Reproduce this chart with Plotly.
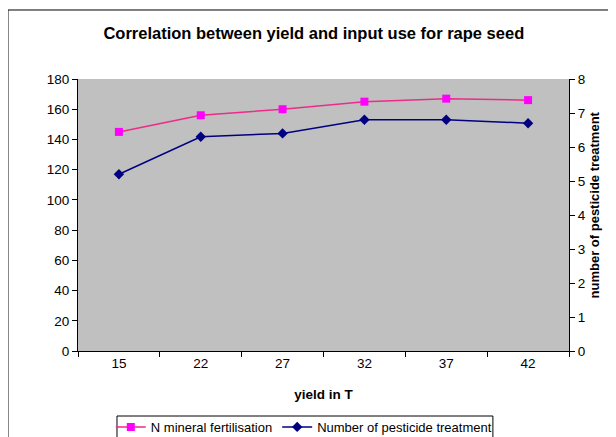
import plotly.graph_objects as go

yield_t = ["15", "22", "27", "32", "37", "42"]
n_mineral = [145, 156, 160, 165, 167, 166]
pesticide = [5.2, 6.3, 6.4, 6.8, 6.8, 6.7]

FONT = "Liberation Sans, Arial, sans-serif"

fig = go.Figure()
fig.add_trace(go.Scatter(
    x=yield_t, y=n_mineral, name="N mineral fertilisation",
    mode="lines+markers",
    line=dict(color="#EE2A8A", width=1.5),
    marker=dict(symbol="square", size=8, color="#FF00FF"),
))
fig.add_trace(go.Scatter(
    x=yield_t, y=pesticide, name="Number of pesticide treatment",
    mode="lines+markers", yaxis="y2",
    line=dict(color="#000080", width=1.5),
    marker=dict(symbol="diamond", size=8, color="#000080"),
))

# page body adds an 8px offset, so the figure is 8px smaller than the window
fig.update_layout(
    width=608, height=429,
    margin=dict(l=70, r=47, t=71, b=86, autoexpand=False),
    paper_bgcolor="white",
    plot_bgcolor="#C0C0C0",
    font=dict(family=FONT, size=13.5, color="black"),
    title=dict(
        text="<b>Correlation between yield and input use for rape seed</b>",
        x=0.503, xanchor="center", y=0.942, yanchor="middle",
        font=dict(size=16.5),
    ),
    xaxis=dict(
        type="category", range=[-0.5, 5.5], tickson="boundaries",
        ticks="outside", ticklen=5, tickcolor="black", automargin=False,
        showline=True, linecolor="black", showgrid=False, zeroline=False,
        title=dict(text="<b>yield in T</b>", standoff=19,
                   font=dict(size=13.5)),
    ),
    yaxis=dict(
        range=[0, 180], dtick=20, ticks="outside", ticklen=5,
        tickcolor="black", showline=True, linecolor="black",
        showgrid=False, zeroline=False, automargin=False,
    ),
    yaxis2=dict(
        range=[0, 8], dtick=1, overlaying="y", side="right",
        ticks="outside", ticklen=5, tickcolor="black", automargin=False,
        showline=True, linecolor="black", showgrid=False, zeroline=False,
    ),
    legend=dict(
        orientation="h", x=0.0668, xanchor="left", y=-0.224, yanchor="top",
        borderwidth=0, bgcolor="rgba(0,0,0,0)",
        font=dict(size=13),
    ),
    showlegend=True,
)

# right axis title
fig.add_annotation(
    text="<b>number of pesticide treatment</b>",
    xref="paper", yref="paper", x=1.0713, y=0.537,
    textangle=-90, showarrow=False, font=dict(size=13),
)

# outer chart frame
fig.add_shape(
    type="rect", xref="paper", yref="paper",
    x0=-0.1426, x1=1.11, y0=-0.34, y1=1.2537,
    line=dict(color="black", width=1), fillcolor="rgba(0,0,0,0)",
    layer="below",
)
# legend box
fig.add_shape(
    type="rect", xref="paper", yref="paper",
    x0=0.0794, x1=0.845, y0=-0.4, y1=-0.239,
    line=dict(color="black", width=1), fillcolor="white",
    layer="below",
)

fig.write_html("out.html")
